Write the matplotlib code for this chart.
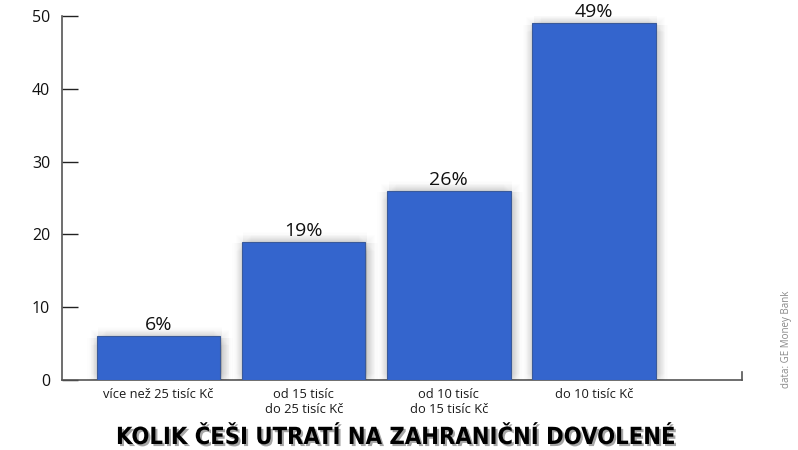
import matplotlib
matplotlib.use("Agg")
import matplotlib.pyplot as plt
import matplotlib.patheffects as pe
from matplotlib import font_manager

categories = ["více než 25 tisíc Kč", "od 15 tisíc\ndo 25 tisíc Kč",
              "od 10 tisíc\ndo 15 tisíc Kč", "do 10 tisíc Kč"]
values = [6, 19, 26, 49]
value_labels = ["6%", "19%", "26%", "49%"]
yticks = [0, 10, 20, 30, 40, 50]
title = "KOLIK ČEŠI UTRATÍ NA ZAHRANIČNÍ DOVOLENÉ"
source = "data: GE Money Bank"

plt.rcParams['font.family'] = ['Open Sans', 'DejaVu Sans']

# find a condensed / narrow bold face for the title if one is installed
title_font = None
for f in font_manager.fontManager.ttflist:
    n = (f.name + " " + f.fname).lower()
    if ('condensed' in n or 'narrow' in n) and 'bold' in n:
        title_font = f.fname
        break

fig = plt.figure(figsize=(7.98, 4.5), dpi=100)
ax = fig.add_axes([62/798, 1-380/450, (742-62)/798, (380-16)/450])

x = list(range(len(values)))
glow = []
for r in [8, 7, 6, 5, 4, 3, 2, 1]:
    for dx, dy in [(1, 0), (-1, 0), (0, 1), (0, -1), (0.7, 0.7), (-0.7, 0.7),
                   (0.7, -0.7), (-0.7, -0.7)]:
        glow.append(pe.SimplePatchShadow(offset=(dx * r + 1, dy * r - 1),
                                         shadow_rgbFace='black', alpha=0.009))
glow.append(pe.Normal())
bars = ax.bar(x, values, width=0.85, color='#3465CD', edgecolor='#3a5a9a',
              linewidth=0.8, zorder=3)
for b in bars:
    b.set_path_effects(glow)

for xi, v, lab in zip(x, values, value_labels):
    ax.annotate(lab, (xi, v), xytext=(0, 1.5), textcoords='offset points',
                ha='center', va='bottom', fontsize=14, color='#111111', zorder=4)

ax.set_xlim(-0.666, 4.02)
ax.set_ylim(0, 50)
ax.set_yticks(yticks)
ax.set_yticklabels([str(t) for t in yticks], fontsize=11.5)
ax.tick_params(axis='y', direction='in', length=11.5, width=1, color='#222222',
               pad=8.5, labelcolor='#111111')
ax.set_xticks(x)
ax.set_xticklabels(categories, fontsize=9.3, linespacing=1.15)
ax.tick_params(axis='x', length=0, pad=6, labelcolor='#1a1a1a')

for s in ['top', 'right']:
    ax.spines[s].set_visible(False)
for s in ['left', 'bottom']:
    ax.spines[s].set_color('#555555')
    ax.spines[s].set_linewidth(1.2)
ax.plot([1, 1], [0, 0.022], transform=ax.transAxes, color='#555555', lw=1.2,
        clip_on=False)

tkw = dict(ha='center', va='center', fontsize=17, fontweight='bold', color='black',
           path_effects=[pe.withSimplePatchShadow(offset=(1.5, -1.5), alpha=0.35)])
if title_font:
    tkw['fontproperties'] = font_manager.FontProperties(fname=title_font, size=17)
    tkw.pop('fontsize'); tkw.pop('fontweight')
t = fig.text(0.497, 1-437/450, title, **tkw)
# fit title width to the reference (~561 px)
fig.canvas.draw()
w = t.get_window_extent().width
t.set_fontsize(t.get_fontsize() * 561.0 / w)

fig.text(0.985, 0.245, source, rotation=90, ha='center', va='center', fontsize=7,
         color='#888888')

fig.savefig("out.png", dpi=100)
